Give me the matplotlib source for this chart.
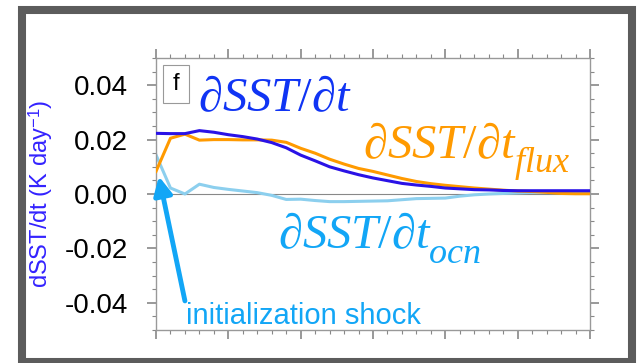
import numpy as np
import matplotlib
matplotlib.use("Agg")
import matplotlib.pyplot as plt
from matplotlib.patches import Rectangle
from matplotlib.ticker import MultipleLocator

plt.rcParams["font.family"] = ["Liberation Sans", "DejaVu Sans"]
plt.rcParams["mathtext.fontset"] = "custom"
plt.rcParams["mathtext.it"] = "Liberation Serif:italic"
plt.rcParams["mathtext.rm"] = "Liberation Serif"

# lead time (arbitrary units, one sample per minor tick)
lead = np.arange(31)

dsst_dt = [0.0223, 0.0222, 0.0222, 0.0233, 0.0227, 0.0218, 0.0211, 0.0202,
           0.0189, 0.0170, 0.0143, 0.0122, 0.0100, 0.0085, 0.0071, 0.0059,
           0.0049, 0.0039, 0.0033, 0.0028, 0.0022, 0.0019, 0.0016, 0.0015,
           0.0013, 0.0012, 0.0012, 0.0012, 0.0012, 0.0012, 0.0012]
dsst_flux = [0.0083, 0.0205, 0.0220, 0.0198, 0.0200, 0.0200, 0.0199, 0.0199,
             0.0198, 0.0190, 0.0168, 0.0150, 0.0128, 0.0110, 0.0094, 0.0083,
             0.0070, 0.0057, 0.0046, 0.0038, 0.0032, 0.0027, 0.0022, 0.0018,
             0.0014, 0.0011, 0.0009, 0.0006, 0.0002, 0.0001, 0.0001]
dsst_ocn = [0.0144, 0.0022, 0.0000, 0.0036, 0.0024, 0.0017, 0.0011, 0.0005,
            -0.0005, -0.0020, -0.0019, -0.0024, -0.0028, -0.0028, -0.0027,
            -0.0026, -0.0025, -0.0021, -0.0017, -0.0016, -0.0015, -0.0008,
            -0.0003, 0.0000, 0.0002, 0.0004, 0.0006, 0.0007, 0.0008, 0.0009,
            0.0009]

C_TOT, C_TOT_TXT = "#2a12e6", "#1034f4"
C_FLX = "#ff9a00"
C_OCN, C_OCN_TXT = "#8ccfee", "#12a6f6"

fig = plt.figure(figsize=(6.4, 3.63), dpi=100)
# grey outer frame
fig.patches.append(Rectangle((22 / 640, 1 - 362 / 363), 610 / 640, 352 / 363,
                             transform=fig.transFigure, fill=False,
                             edgecolor="#5c5c5c", lw=5.8))

ax = fig.add_axes([156 / 640, 1 - 330 / 363, 434 / 640, 272 / 363])
ax.axhline(0, color="#888888", lw=0.8, zorder=1)
ax.plot(lead, dsst_ocn, color=C_OCN, lw=2.2, zorder=2)
ax.plot(lead, dsst_flux, color=C_FLX, lw=2.2, zorder=3)
ax.plot(lead, dsst_dt, color=C_TOT, lw=2.2, zorder=3)

ax.set_xlim(0, 30)
ax.set_ylim(-0.05, 0.05)
ax.xaxis.set_major_locator(MultipleLocator(5))
ax.xaxis.set_minor_locator(MultipleLocator(1))
ax.yaxis.set_minor_locator(MultipleLocator(0.005))
ax.set_yticks([-0.04, -0.02, 0.0, 0.02, 0.04])
ax.set_yticklabels(["-0.04", "-0.02", "0.00", "0.02", "0.04"])
ax.tick_params(which="both", direction="out", color="#888888",
               top=True, right=True, labelbottom=False, labelsize=20)
ax.tick_params(which="major", length=6.5, width=1.2, pad=13.5)
ax.tick_params(which="minor", length=3.2, width=0.8)
for s in ax.spines.values():
    s.set_color("#999999")
    s.set_linewidth(1.0)

ax.set_ylabel("dSST/dt (K day$^{\\mathregular{-1}}$)", color="#3322ff",
              fontsize=17)
ax.yaxis.set_label_coords(-0.232, 0.5)

# panel letter box
ax.add_patch(Rectangle((0.48, 0.0333), 1.8, 0.0141, fill=False,
                       ec="#999999", lw=0.8, zorder=4))
ax.text(1.38, 0.0404, "f", fontsize=17, ha="center", va="center")


def label(x, y, sub, color):
    t = ax.text(x, y, r"$\partial SST/\partial t$", color=color,
                fontsize=35, ha="left", va="baseline")
    if sub:
        ax.annotate(r"$%s$" % sub, xy=(1, 0), xycoords=t,
                    xytext=(-2, -3), textcoords="offset points",
                    color=color, fontsize=26, ha="left", va="baseline")


label(2.9, 0.0304, None, C_TOT_TXT)
label(14.3, 0.0133, "flux", C_FLX)
label(8.4, -0.0200, "ocn", C_OCN_TXT)

ax.annotate("", xy=(0.2, 0.0065), xytext=(2.0, -0.0393),
            arrowprops=dict(arrowstyle="-|>,head_length=1.1,head_width=0.55",
                            color=C_OCN_TXT, lw=3.5, shrinkA=0, shrinkB=0))
ax.text(2.1, -0.0478, "initialization shock", color=C_OCN_TXT, fontsize=21,
        ha="left", va="baseline")

fig.savefig("out.png", dpi=100)
